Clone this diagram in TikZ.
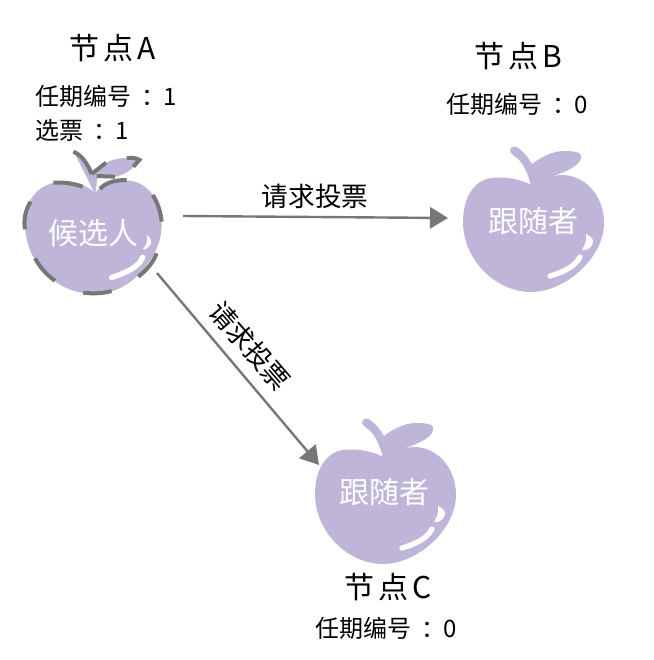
\documentclass[tikz,border=0pt]{standalone}
\usepackage{fontspec}
\setmainfont{Noto Sans CJK SC}
\usetikzlibrary{arrows.meta}
\definecolor{applepurple}{HTML}{BEB5D9}
\definecolor{linegray}{HTML}{777777}
\newcommand{\mkapple}[2]{%
\begin{scope}[shift={(#1,#2)}]
  \fill[applepurple] (0,0) .. controls (8,-6) and (20,-10) .. (33,-10)
    .. controls (58,-8) and (73,14) .. (73,38)
    .. controls (73,72) and (35,107) .. (0,107)
    .. controls (-35,107) and (-68,75) .. (-68,37)
    .. controls (-68,10) and (-55,-5) .. (-40,-7)
    .. controls (-25,-9) and (-8,-5) .. (0,0) -- cycle;
  \fill[applepurple] (0,1) .. controls (-3,-12) and (-8,-22) .. (-14,-27)
    .. controls (-18,-30) and (-23,-33) .. (-20,-37)
    .. controls (-17,-41) and (-12,-37) .. (-5,-30)
    .. controls (-3,-27) and (-1,-24) .. (1,-21)
    .. controls (10,-28) and (22,-34) .. (33,-34)
    .. controls (42,-34) and (52,-33) .. (50,-28)
    .. controls (50,-24) and (47,-21) .. (44,-19)
    .. controls (36,-13) and (22,-9) .. (6,-3) -- cycle;
  \draw[white,line width=4pt,line cap=round] (19,91) .. controls (30,88) and (44,82) .. (49,72);
  \fill[white] (55,49) .. controls (61,52) and (64,55) .. (61,60)
    .. controls (59,64) and (54,66) .. (51,65)
    .. controls (54,60) and (56,55) .. (55,49) -- cycle;
\end{scope}}
\tikzset{
  x=0.75pt,y=-0.75pt,
  title/.style={font=\fontsize{22.5}{24}\selectfont,text=black,inner sep=0pt},
  info/.style={font=\fontsize{18}{20}\selectfont,text=black,inner sep=0pt,anchor=west},
  role/.style={font=\fontsize{22.5}{24}\selectfont,text=white,inner sep=0pt},
  edgetext/.style={font=\fontsize{20}{22}\selectfont,text=black,inner sep=0pt},
  conn/.style={draw=linegray,line width=1.8pt,-{Triangle[length=13.5pt,width=16pt,fill=linegray]}},
  dashseg/.style={draw=linegray,line width=3pt},
}
\newcommand{\infotail}[1]{\hspace{8pt}：\hspace{-2pt}#1}
\begin{document}
\begin{tikzpicture}
\useasboundingbox (0,0) rectangle (653,660);
\mkapple{531}{185}
\mkapple{383}{457}
% candidate apple, with its dashed outline
\begin{scope}[shift={(0pt,-15pt)},x=0.25pt,y=-0.25pt]
  \fill[applepurple] (285,520) .. controls (300,495) and (345,478) .. (390,482)
    .. controls (450,490) and (485,550) .. (485,620)
    .. controls (485,700) and (400,822) .. (285,822)
    .. controls (170,822) and (75,730) .. (75,610)
    .. controls (75,540) and (115,490) .. (180,486)
    .. controls (220,484) and (265,495) .. (285,520) -- cycle;
  \fill[applepurple] (285,525) .. controls (270,490) and (245,440) .. (222,398)
    .. controls (250,410) and (265,435) .. (275,462)
    -- (318,428) .. controls (350,412) and (390,410) .. (418,420)
    .. controls (405,445) and (370,470) .. (330,472)
    -- (292,470) .. controls (290,490) and (288,510) .. (285,525) -- cycle;
  \draw[white,line width=4pt,line cap=round] (335,773) .. controls (370,760) and (415,745) .. (428,712);
  \fill[white] (440,645) .. controls (455,655) and (460,670) .. (445,682)
    .. controls (438,688) and (430,690) .. (428,688)
    .. controls (440,675) and (445,660) .. (440,645) -- cycle;
  \draw[dashseg] (160,488) .. controls (190,486) and (220,490) .. (248,500);
  \draw[dashseg] (300,507) .. controls (315,488) and (345,480) .. (380,480);
  \draw[dashseg] (458,525) .. controls (472,545) and (482,575) .. (485,605);
  \draw[dashseg] (470,700) .. controls (458,730) and (440,750) .. (415,770);
  \draw[dashseg] (250,818) .. controls (280,822) and (310,820) .. (335,813);
  \draw[dashseg] (165,782) .. controls (140,765) and (120,742) .. (105,715);
  \draw[dashseg] (75,628) .. controls (70,600) and (76,570) .. (92,545);
  \draw[dashseg] (220,395) .. controls (245,405) and (262,430) .. (275,462);
  \draw[dashseg] (275,462) -- (318,428);
  \draw[dashseg] (290,468) -- (345,470);
  \draw[dashseg] (380,415) .. controls (395,412) and (410,414) .. (418,420) -- (400,440);
\end{scope}
\node[title] (ta) at (113,48) {节\hspace{3pt}点\hspace{3pt}A};
\node[info] (ia1) at (35,96) {任期编号\infotail{1}};
\node[info] (ia2) at (35,130) {选票\infotail{1}};
\node[title] (tb) at (518,56) {节\hspace{3pt}点\hspace{3pt}B};
\node[info] (ib) at (446,104) {任期编号\infotail{0}};
\node[title] (tc) at (388,587) {节\hspace{3pt}点\hspace{3pt}C};
\node[info] (ic) at (315,628) {任期编号\infotail{0}};
\node[role] (ra) at (93,233) {候选人};
\node[role] (rb) at (533,221) {跟随者};
\node[role] (rc) at (384,492) {跟随者};
\coordinate (aout1) at (183,216);
\coordinate (bin) at (448,218);
\coordinate (aout2) at (157,273);
\coordinate (cin) at (319,465);
\draw[conn] (aout1) -- (bin);
\draw[conn] (aout2) -- (cin);
\node[edgetext] (e1) at (315,196) {请求投票};
\node[edgetext,rotate=-49] (e2) at (250,346) {请求投票};
\end{tikzpicture}
\end{document}
